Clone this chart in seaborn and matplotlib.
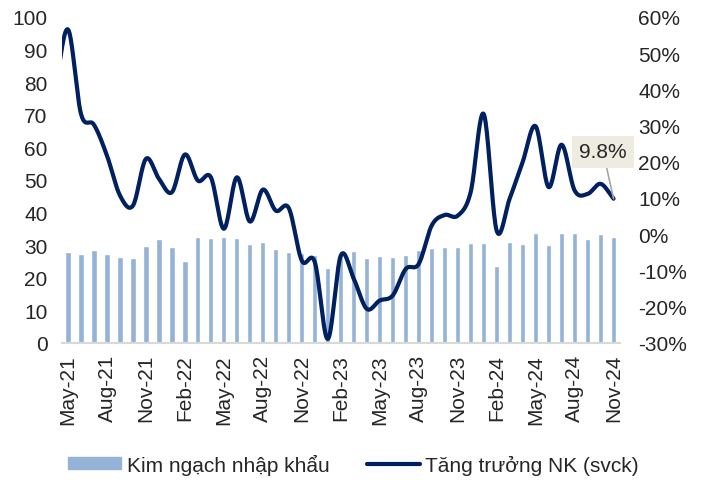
import numpy as np
import pandas as pd
import seaborn as sns
import matplotlib.pyplot as plt
from matplotlib.patches import Patch
from matplotlib.lines import Line2D

# monthly data May-21 .. Nov-24
months = pd.date_range("2021-05-01", "2024-11-01", freq="MS")
month_labels = [m.strftime("%b-%y") for m in months]

imports = [27.8, 27.3, 28.5, 27.3, 26.4, 26.1, 29.8, 31.9, 29.3, 25.2,
           32.6, 32.1, 32.4, 32.1, 30.3, 30.8, 28.7, 27.8, 27.5, 27.1,
           22.9, 27.0, 28.3, 26.0, 26.7, 26.4, 27.0, 28.5, 29.1, 29.3,
           29.4, 30.6, 30.6, 23.7, 31.0, 30.2, 33.7, 30.1, 33.7, 33.7,
           31.8, 33.4, 32.6]

# growth yoy (%), first value is Apr-21 (partly outside the plot area)
growth_apr21 = 40.0
growth = [56.5, 33.2, 30.2, 21.7, 10.7, 7.9, 20.8, 15.3, 11.6, 22.0,
          14.8, 15.7, 1.5, 15.7, 3.5, 12.3, 6.5, 7.2, -7.3, -7.7,
          -28.9, -5.9, -12.3, -20.6, -18.3, -16.9, -9.6, -8.2, 2.4, 5.3,
          5.1, 11.6, 33.2, 1.0, 9.8, 19.9, 29.8, 13.0, 24.7, 12.1,
          11.1, 13.9, 9.8]

bar_color = "#95B3D7"
line_color = "#002060"
fs = 15

sns.set_style("white")
plt.rcParams["font.family"] = ["Liberation Sans", "DejaVu Sans"]


def smooth(x, y, n=20):
    # catmull-rom spline through the points, like Excel's smoothed line
    x = np.asarray(x, float)
    y = np.asarray(y, float)
    px = np.concatenate([[2 * x[0] - x[1]], x, [2 * x[-1] - x[-2]]])
    py = np.concatenate([[2 * y[0] - y[1]], y, [2 * y[-1] - y[-2]]])
    xs, ys = [], []
    t = np.linspace(0, 1, n, endpoint=False)
    for i in range(1, len(px) - 2):
        for arr, out in ((px, xs), (py, ys)):
            p0, p1, p2, p3 = arr[i - 1], arr[i], arr[i + 1], arr[i + 2]
            out.extend(0.5 * ((2 * p1) + (-p0 + p2) * t
                              + (2 * p0 - 5 * p1 + 4 * p2 - p3) * t ** 2
                              + (-p0 + 3 * p1 - 3 * p2 + p3) * t ** 3))
    xs.append(x[-1])
    ys.append(y[-1])
    return np.array(xs), np.array(ys)


df = pd.DataFrame({"month": month_labels, "imports": imports})

fig, ax = plt.subplots(figsize=(7.07, 4.81), dpi=100)
fig.subplots_adjust(left=0.087, right=0.877, bottom=0.285, top=0.963)

sns.barplot(data=df, x="month", y="imports", color=bar_color,
            width=0.4, saturation=1, ax=ax)
ax.set_ylim(0, 100)
ax.set_yticks(range(0, 101, 10))
ax.set_xlim(-0.5, len(months) - 0.5)
ax.set_xlabel("")
ax.set_ylabel("")
ax.set_xticks(range(0, len(months), 3))
ax.set_xticklabels(month_labels[::3], rotation=90)
ax.tick_params(axis="x", labelsize=fs, length=0, pad=8)
ax.tick_params(axis="y", labelsize=fs, length=0, pad=10)
for s in ["top", "right", "left"]:
    ax.spines[s].set_visible(False)
ax.spines["bottom"].set_color("#D9D9D9")
ax.spines["bottom"].set_linewidth(1.5)

ax2 = ax.twinx()
sx, sy = smooth(np.arange(-1, len(months)), [growth_apr21] + growth)
ax2.plot(sx, sy, color=line_color, lw=3, solid_capstyle="round")
ax2.set_ylim(-30, 60)
ax2.set_yticks(range(-30, 61, 10))
ax2.set_yticklabels([f"{v}%" for v in range(-30, 61, 10)])
ax2.tick_params(axis="y", labelsize=fs, length=0, pad=13)
ax2.set_xlim(-0.5, len(months) - 0.5)
for s in ax2.spines.values():
    s.set_visible(False)

ax2.annotate(f"{growth[-1]}%", xy=(len(months) - 1, growth[-1]),
             xytext=(41.2, 22.7), ha="center", va="center", fontsize=fs,
             bbox=dict(boxstyle="square,pad=0.33", fc="#EEECE1", ec="none"),
             arrowprops=dict(arrowstyle="-", color="#A6A6A6", lw=1.2,
                             shrinkA=0, shrinkB=0))

handles = [Patch(color=bar_color, label="Kim ngạch nhập khẩu"),
           Line2D([], [], color=line_color, lw=3, label="Tăng trưởng NK (svck)")]
fig.legend(handles=handles, loc="center", bbox_to_anchor=(0.5, 0.033),
           ncol=2, frameon=False, fontsize=fs, handlelength=2.55,
           handleheight=0.5, handletextpad=0.25, columnspacing=1.8,
           borderpad=0, borderaxespad=0)

fig.savefig("out.png", dpi=100)
